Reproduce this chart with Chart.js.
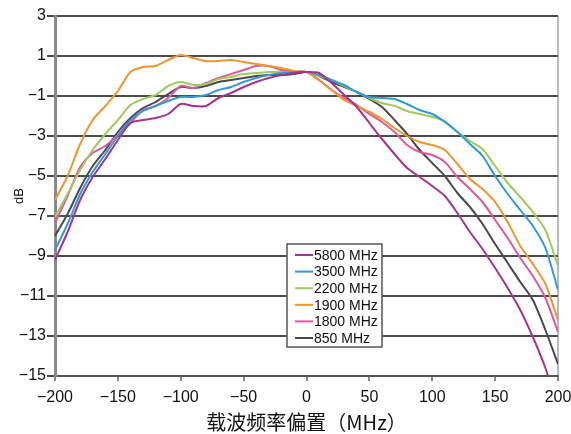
<!DOCTYPE html>
<html>
<head>
<meta charset="utf-8">
<script src="https://cdn.jsdelivr.net/npm/chart.js@4.4.1/dist/chart.umd.min.js"></script>
<style>
  html, body { margin: 0; padding: 0; background: #fff; }
  #wrap { width: 571px; height: 434px; }
</style>
</head>
<body>
<div id="wrap"><canvas id="offsetChart" width="571" height="434"></canvas></div>
<script>
// carrier frequency offset, MHz
var offsets = [-200, -190, -180, -170, -160, -150, -140, -130, -120, -110, -100,
  -90, -80, -70, -60, -50, -40, -30, -20, -10, 0,
  10, 20, 30, 40, 50, 60, 70, 80, 90, 100,
  110, 120, 130, 140, 150, 160, 170, 180, 190, 200];

var labels = ['5800 MHz', '3500 MHz', '2200 MHz', '1900 MHz', '1800 MHz', '850 MHz'];

var db5800 = [-9.2, -7.8, -6.2, -5.05, -4.15, -3.2, -2.35, -2.2, -2.1, -1.9, -1.4,
  -1.5, -1.5, -1.1, -0.85, -0.55, -0.3, -0.1, 0.05, 0.15, 0.2,
  0.15, -0.35, -0.95, -1.55, -2.35, -3.15, -3.9, -4.6, -5.05, -5.5,
  -6.0, -6.85, -7.8, -8.65, -9.6, -10.6, -11.7, -13.05, -14.6, -16.6];

var db3500 = [-8.7, -7.4, -5.9, -4.8, -3.9, -3.0, -2.2, -1.75, -1.5, -1.25, -1.05,
  -1.05, -0.95, -0.7, -0.55, -0.3, -0.1, 0.05, 0.15, 0.2, 0.2,
  0.05, -0.2, -0.45, -0.8, -1.05, -1.1, -1.15, -1.4, -1.7, -1.9,
  -2.3, -2.8, -3.4, -4.0, -5.0, -5.9, -6.7, -7.5, -8.6, -10.7];

var db2200 = [-7.05, -5.9, -4.7, -3.7, -2.9, -2.2, -1.45, -1.15, -0.95, -0.5, -0.3,
  -0.45, -0.4, -0.15, -0.05, 0.1, 0.15, 0.2, 0.2, 0.2, 0.2,
  0.0, -0.2, -0.5, -0.8, -1.1, -1.35, -1.5, -1.75, -1.9, -2.05,
  -2.25, -2.8, -3.25, -3.65, -4.5, -5.35, -6.05, -6.8, -7.7, -9.5];

var db1900 = [-6.2, -5.0, -3.4, -2.2, -1.5, -0.75, 0.2, 0.45, 0.5, 0.8, 1.05,
  0.9, 0.75, 0.75, 0.8, 0.7, 0.6, 0.5, 0.4, 0.25, 0.2,
  -0.2, -0.7, -1.2, -1.5, -1.8, -2.15, -2.6, -3.0, -3.3, -3.45,
  -3.7, -4.4, -5.15, -5.65, -6.3, -7.3, -8.5, -9.4, -10.4, -12.2];

var db1800 = [-7.35, -6.0, -4.55, -3.85, -3.5, -2.95, -2.35, -1.7, -1.5, -1.1, -0.5,
  -0.6, -0.35, -0.1, 0.1, 0.3, 0.5, 0.5, 0.3, 0.2, 0.2,
  -0.2, -0.7, -1.1, -1.45, -1.9, -2.3, -2.8, -3.45, -3.8, -3.95,
  -4.3, -5.05, -5.65, -6.3, -7.2, -8.1, -9.1, -10.0, -11.1, -12.8];

var db850 = [-8.0, -6.9, -5.6, -4.5, -3.7, -2.8, -2.1, -1.6, -1.3, -0.9, -0.55,
  -0.6, -0.5, -0.3, -0.2, -0.1, 0.0, 0.05, 0.05, 0.1, 0.2,
  0.0, -0.3, -0.55, -0.8, -1.15, -1.55, -2.2, -2.9, -3.7, -4.35,
  -5.0, -5.85, -6.55, -7.4, -8.4, -9.35, -10.3, -11.2, -12.7, -14.4];

var yTicks = [3, 1, -1, -3, -5, -7, -9, -11, -13, -15];

var colors = ['#a8328c', '#2f9ad6', '#9fcb5c', '#f0952e', '#e2589c', '#4a4a4a'];
var series = [db5800, db3500, db2200, db1900, db1800, db850];

function toPoints(vals) {
  return offsets.map(function (f, i) { return { x: f, y: vals[i] }; });
}

var datasets = series.map(function (vals, i) {
  return {
    label: labels[i],
    data: toPoints(vals),
    borderColor: colors[i],
    backgroundColor: colors[i],
    borderWidth: 2,
    pointRadius: 0,
    tension: 0.25,
    fill: false
  };
});
// draw the dark 850 line under the others
datasets[5].order = 5;

// legend box inside the plot
var boxLegend = {
  id: 'boxLegend',
  afterDatasetsDraw: function (chart) {
    var ctx = chart.ctx;
    var x = 287, y = 244, w = 95, h = 103, row = 16.6;
    ctx.save();
    ctx.fillStyle = '#fff';
    ctx.fillRect(x, y, w, h);
    ctx.strokeStyle = '#555';
    ctx.lineWidth = 1.5;
    ctx.strokeRect(x, y, w, h);
    ctx.font = '14px "Liberation Sans", Arial, sans-serif';
    ctx.textBaseline = 'middle';
    chart.data.datasets.forEach(function (ds, i) {
      var cy = y + 11 + i * row;
      ctx.strokeStyle = ds.borderColor;
      ctx.lineWidth = 2;
      ctx.beginPath();
      ctx.moveTo(x + 8, cy);
      ctx.lineTo(x + 26, cy);
      ctx.stroke();
      ctx.fillStyle = '#111';
      ctx.fillText(ds.label, x + 27, cy + 1);
    });
    ctx.restore();
  }
};

// right-hand frame line
var rightFrame = {
  id: 'rightFrame',
  beforeDatasetsDraw: function (chart) {
    var a = chart.chartArea, ctx = chart.ctx;
    ctx.save();
    ctx.strokeStyle = '#777';
    ctx.lineWidth = 1;
    ctx.beginPath();
    ctx.moveTo(a.right, a.top);
    ctx.lineTo(a.right, a.bottom);
    ctx.stroke();
    ctx.restore();
  }
};

var ctx = document.getElementById('offsetChart').getContext('2d');
var chart = new Chart(ctx, {
  type: 'line',
  data: { datasets: datasets },
  plugins: [rightFrame, boxLegend],
  options: {
    responsive: false,
    animation: false,
    layout: { padding: { top: 16, right: 0, left: 12, bottom: 0 } },
    plugins: {
      legend: { display: false },
      tooltip: { enabled: false }
    },
    scales: {
      x: {
        type: 'linear',
        min: -200,
        max: 200,
        afterBuildTicks: function (scale) {
          scale.ticks = offsets.filter(function (f) { return f % 50 === 0; })
            .map(function (f) { return { value: f }; });
        },
        afterFit: function (scale) {
          scale.height = 58;
          scale.paddingRight = 13;
        },
        grid: {
          display: true,
          drawOnChartArea: false,
          drawTicks: true,
          tickLength: 5,
          color: '#888',
          lineWidth: 2
        },
        border: { display: true, color: '#555', width: 2 },
        ticks: {
          color: '#111',
          padding: 7,
          maxRotation: 0,
          font: { family: '"Liberation Sans", Arial, sans-serif', size: 16 },
          callback: function (v) { return String(v).replace('-', '\u2212'); }
        },
        title: {
          display: true,
          text: '载波频率偏置（MHz）',
          color: '#111',
          padding: { top: 2, bottom: 0 },
          font: { family: '"Noto Sans CJK SC", sans-serif', size: 20 }
        }
      },
      y: {
        min: -15,
        max: 3,
        afterBuildTicks: function (scale) {
          scale.ticks = yTicks.map(function (v) { return { value: v }; });
        },
        afterFit: function (scale) { scale.width = 43; },
        grid: {
          color: '#4d4d4d',
          lineWidth: 2,
          drawTicks: true,
          tickLength: 8
        },
        border: { display: true, color: '#8a8a8a', width: 3 },
        ticks: {
          color: '#111',
          padding: 1,
          font: { family: '"Liberation Sans", Arial, sans-serif', size: 16 },
          callback: function (v) { return String(v).replace('-', '\u2212'); }
        },
        title: {
          display: true,
          text: 'dB',
          color: '#111',
          padding: 0,
          font: { family: '"Liberation Sans", Arial, sans-serif', size: 13 }
        }
      }
    }
  }
});
</script>
</body>
</html>
